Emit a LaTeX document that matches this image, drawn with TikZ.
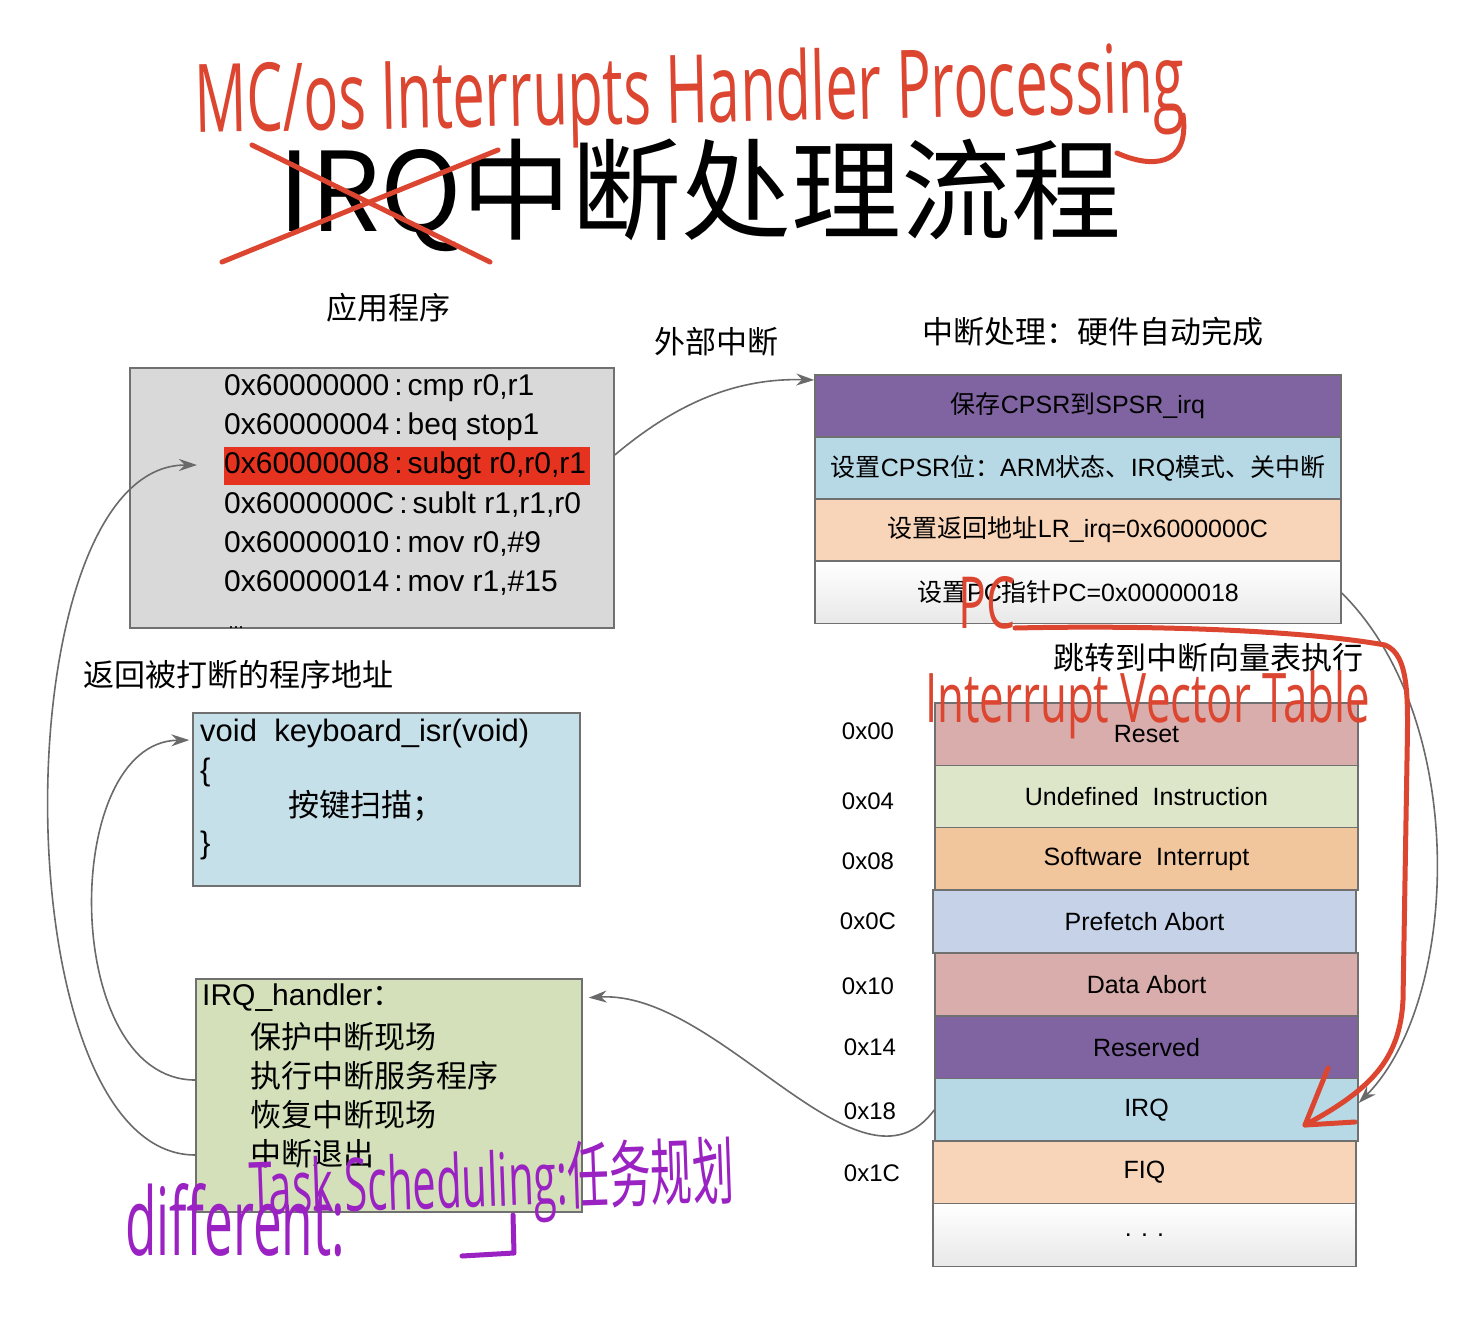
\documentclass[tikz,border=0pt]{standalone}
\usepackage{fontspec}
\usepackage{graphicx}
\setmainfont{Liberation Sans}
\newfontfamily\cjk{Noto Sans CJK SC}
\newfontfamily\hand{Open Sans}
\usetikzlibrary{arrows.meta}
\definecolor{boxline}{HTML}{707070}
\definecolor{connc}{HTML}{6A6A6A}
\definecolor{codebg}{HTML}{D9D9D9}
\definecolor{hl}{HTML}{E5331F}
\definecolor{kbbg}{HTML}{C6E0EA}
\definecolor{hdbg}{HTML}{D4E0B9}
\definecolor{purp}{HTML}{8064A2}
\definecolor{ltblue}{HTML}{B7D9E5}
\definecolor{peach}{HTML}{F8D5B8}
\definecolor{rosec}{HTML}{D9ADAC}
\definecolor{ltgreen}{HTML}{DDE6C9}
\definecolor{orangec}{HTML}{F2C69C}
\definecolor{bluegray}{HTML}{C5D2E7}
\definecolor{inkred}{HTML}{DC4530}
\definecolor{inkpurple}{HTML}{9A22C2}
\tikzset{
  box/.style={draw=boxline, line width=1.5pt, inner sep=0pt, font=\fontsize{25}{30}\selectfont},
  stkrow/.style={box, minimum width=526pt, minimum height=62pt},
  vecrow/.style={box, minimum width=423pt, minimum height=63pt},
  lbl/.style={font=\cjk\fontsize{31}{36}\selectfont, inner sep=0pt},
  codeline/.style={anchor=west, inner sep=0pt, font=\fontsize{30}{36}\selectfont},
  txt/.style={anchor=west, inner sep=0pt, font=\fontsize{31}{36}\selectfont},
  addr/.style={inner sep=0pt, font=\fontsize{24}{28}\selectfont},
  conn/.style={draw=connc, line width=1.6pt, -{Stealth[length=18pt,width=12pt]}},
  ink/.style={draw=inkred, line width=5pt, line cap=round, line join=round},
  inkp/.style={draw=inkpurple, line width=5pt, line cap=round, line join=round},
}
\begin{document}
\begin{tikzpicture}[x=1pt,y=-1pt]
\useasboundingbox[fill=white] (0,0) rectangle (1465,1325);

% title
\node[inner sep=0pt, font=\cjk\fontsize{110}{110}\selectfont] (title) at (700,195) {IRQ中断处理流程};

% labels
\node[lbl] (lapp) at (388,308) {应用程序};
\node[lbl] (lext) at (716,342) {外部中断};
\node[lbl] (lhw) at (1093,332) {中断处理：硬件自动完成};
\node[lbl, anchor=west] (lret) at (83,675) {返回被打断的程序地址};
\node[lbl] (ljmp) at (1208,658) {跳转到中断向量表执行};

% code box
\node[box, fill=codebg, minimum width=484pt, minimum height=260pt] (code) at (372,498) {};
\fill[hl] (224,447) rectangle (590,485);
\node[codeline] (l1) at (224,388) {0x60000000\,:\,cmp r0,r1};
\node[codeline] (l2) at (224,427) {0x60000004\,:\,beq stop1};
\node[codeline] (l3) at (224,466) {0x60000008\,:\,subgt r0,r0,r1};
\node[codeline] (l4) at (224,505) {0x6000000C\,:\,sublt r1,r1,r0};
\node[codeline] (l5) at (224,544) {0x60000010\,:\,mov r0,\#9};
\node[codeline] (l6) at (224,583) {0x60000014\,:\,mov r1,\#15};
\node[inner sep=0pt, font=\fontsize{18}{20}\selectfont] (dots0) at (236,628) {...};

% keyboard isr box
\node[box, fill=kbbg, minimum width=387pt, minimum height=173pt] (kb) at (386.5,799.5) {};
\node[txt] (k1) at (200,733) {void~~keyboard\_isr(void)};
\node[txt] (k2) at (200,772) {\{};
\node[txt] (k3) at (288,806) {\cjk 按键扫描；};
\node[txt] (k4) at (200,845) {\}};

% IRQ handler box
\node[box, fill=hdbg, minimum width=386pt, minimum height=233pt] (hd) at (389,1095.5) {};
\node[txt, font=\fontsize{30}{36}\selectfont] (h0) at (202,998) {IRQ\_handler{\cjk ：}};
\node[txt] (h1) at (250,1037) {\cjk 保护中断现场};
\node[txt] (h2) at (250,1076) {\cjk 执行中断服务程序};
\node[txt] (h3) at (250,1115) {\cjk 恢复中断现场};
\node[txt] (h4) at (250,1154) {\cjk 中断退出};

% hardware stack
\node[stkrow, fill=purp] (s1) at (1078,406) {{\cjk 保存}CPSR{\cjk 到}SPSR\_irq};
\node[stkrow, fill=ltblue] (s2) at (1078,468) {{\cjk 设置}CPSR{\cjk 位：}ARM{\cjk 状态、}IRQ{\cjk 模式、关中断}};
\node[stkrow, fill=peach] (s3) at (1078,530) {{\cjk 设置返回地址}LR\_irq=0x6000000C};
\node[stkrow, top color=white, bottom color=black!9] (s4) at (1078,592.5) {{\cjk 设置}PC{\cjk 指针}PC=0x00000018};

% vector table
\node[vecrow, fill=rosec] (v0) at (1146.5,734.5) {Reset};
\node[vecrow, fill=ltgreen] (v1) at (1146.5,797) {Undefined~~Instruction};
\node[vecrow, fill=orangec] (v2) at (1146.5,859) {Software~~Interrupt};
\node[vecrow, fill=bluegray] (v3) at (1144.5,921.5) {Prefetch Abort};
\node[vecrow, fill=rosec] (v4) at (1146.5,984.5) {Data Abort};
\node[vecrow, fill=purp] (v5) at (1146.5,1047.5) {Reserved};
\node[vecrow, fill=ltblue] (v6) at (1146.5,1110) {IRQ};
\node[vecrow, fill=peach] (v7) at (1144.5,1172.5) {FIQ};
\node[vecrow, top color=white, bottom color=black!9] (v8) at (1144.5,1235) {. . .};

\node[addr] (a0) at (868,731) {0x00};
\node[addr] (a1) at (868,801) {0x04};
\node[addr] (a2) at (868,861) {0x08};
\node[addr] (a3) at (868,921) {0x0C};
\node[addr] (a4) at (868,986) {0x10};
\node[addr] (a5) at (870,1047) {0x14};
\node[addr] (a6) at (870,1111) {0x18};
\node[addr] (a7) at (872,1173) {0x1C};

% connectors
\coordinate (ret) at (197,465);
\draw[conn] (code.east |- 0,455) .. controls (680,400) and (740,378) .. (s1.west |- 0,380);
\draw[conn] (s4.east |- 0,593) .. controls (1470,720) and (1460,1000) .. (v6.east |- 0,1103);
\draw[conn, shorten >=6pt] (v6.west) .. controls (860,1210) and (720,990) .. (hd.east |- 0,998);
\draw[conn, shorten >=3pt] (hd.west |- 0,1080) .. controls (60,1080) and (60,742) .. (kb.west |- 0,740);
\draw[conn] (hd.west |- 0,1155) .. controls (0,1155) and (0,465) .. (ret);

% red handwriting
\node[inner sep=0pt, anchor=base west, text=inkred, rotate=1.2] (hwtitle) at (195,133) {\resizebox{990pt}{72pt}{\hand MC/os Interrupts Handler Processing}};
\draw[ink] (1183,115) .. controls (1190,168) and (1150,168) .. (1117,153);
\draw[ink] (222,262) -- (498,150);
\draw[ink] (252,145) -- (490,262);
\node[inner sep=0pt, anchor=base west, text=inkred] (hwpc) at (958,628) {\resizebox{57pt}{52pt}{\hand PC}};
\node[inner sep=0pt, anchor=base west, text=inkred] (hwivt) at (925,722) {\resizebox{445pt}{52pt}{\hand Interrupt Vector Table}};
\draw[ink] (1015,628) .. controls (1150,625) and (1300,630) .. (1385,645) .. controls (1410,655) and (1408,700) .. (1407,760) -- (1403,1000) .. controls (1400,1060) and (1370,1090) .. (1305,1125);
\draw[ink] (1328,1068) -- (1305,1125) -- (1355,1122);

% purple handwriting
\node[inner sep=0pt, anchor=base west, text=inkpurple] (hwdiff) at (125,1255) {\resizebox{220pt}{72pt}{\hand different:}};
\node[inner sep=0pt, anchor=base west, text=inkpurple, rotate=2] (hwtask) at (250,1215) {\resizebox{485pt}{62pt}{\hand Task Scheduling:{\cjk 任务规划}}};
\draw[inkp] (513,1215) -- (514,1253) -- (462,1256);
\end{tikzpicture}
\end{document}
